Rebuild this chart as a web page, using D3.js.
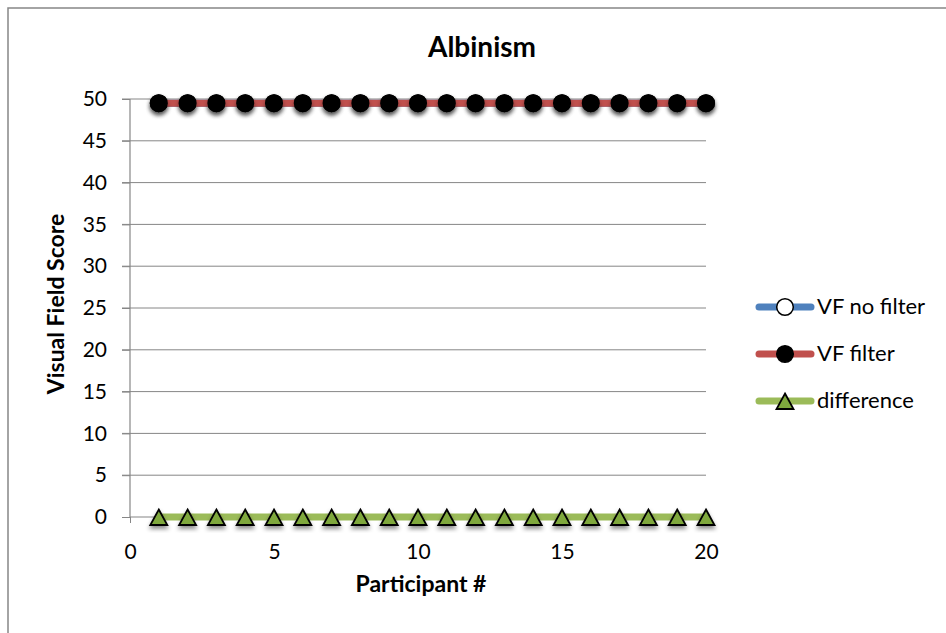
<!DOCTYPE html>
<html>
<head>
<meta charset="utf-8">
<script src="https://cdn.jsdelivr.net/npm/d3@7"></script>
<style>
  html, body { margin: 0; padding: 0; background: #fff; }
  svg { display: block; font-family: Lato, "Open Sans", sans-serif; }
</style>
</head>
<body>
<svg id="chart" width="946" height="633"></svg>
<script>
// Participant numbers and visual field scores
const participants = d3.range(1, 21);
const vfNoFilter = [49.5, 49.5, 49.5, 49.5, 49.5, 49.5, 49.5, 49.5, 49.5, 49.5,
                    49.5, 49.5, 49.5, 49.5, 49.5, 49.5, 49.5, 49.5, 49.5, 49.5];
const vfFilter   = [49.5, 49.5, 49.5, 49.5, 49.5, 49.5, 49.5, 49.5, 49.5, 49.5,
                    49.5, 49.5, 49.5, 49.5, 49.5, 49.5, 49.5, 49.5, 49.5, 49.5];
const difference = [0, 0, 0, 0, 0, 0, 0, 0, 0, 0,
                    0, 0, 0, 0, 0, 0, 0, 0, 0, 0];
const xTicks = [0, 5, 10, 15, 20];
const yTicks = [0, 5, 10, 15, 20, 25, 30, 35, 40, 45, 50];
const seriesNames = ["VF no filter", "VF filter", "difference"];

const svg = d3.select("#chart");

// drop shadow used under the markers
const defs = svg.append("defs");
const f = defs.append("filter").attr("id", "shadow")
  .attr("x", "-50%").attr("y", "-50%").attr("width", "200%").attr("height", "200%");
f.append("feDropShadow").attr("dx", 0).attr("dy", 3).attr("stdDeviation", 2)
  .attr("flood-color", "#000").attr("flood-opacity", 0.45);

// outer chart border
svg.append("rect").attr("x", 8).attr("y", 8).attr("width", 946).attr("height", 640)
  .attr("fill", "#fff").attr("stroke", "#868686").attr("stroke-width", 1.5);

const x = d3.scaleLinear().domain([0, 20]).range([130, 706]);
const y = d3.scaleLinear().domain([0, 50]).range([517, 99]);

// horizontal gridlines
svg.append("g").selectAll("line").data(yTicks.filter(d => d > 0)).join("line")
  .attr("x1", 122).attr("x2", x(20))
  .attr("y1", d => y(d)).attr("y2", d => y(d))
  .attr("stroke", "#868686").attr("stroke-width", 1);

// y axis
const yAxis = svg.append("g").attr("transform", `translate(${x(0)},0)`)
  .call(d3.axisLeft(y).tickValues(yTicks).tickSize(8).tickPadding(15));
yAxis.select(".domain").attr("stroke", "#868686").attr("stroke-width", 1.2)
  .attr("d", `M0,${y(50)}V${y(0)}`);
yAxis.selectAll(".tick line").attr("stroke", "#868686");
yAxis.selectAll(".tick text").attr("font-size", 21).attr("fill", "#000")
  .attr("font-family", "Lato, sans-serif");

// x axis
const xAxis = svg.append("g").attr("transform", `translate(0,${y(0)})`)
  .call(d3.axisBottom(x).tickValues(xTicks).tickSize(6).tickPadding(26));
xAxis.select(".domain").attr("stroke", "#868686").attr("stroke-width", 1.2)
  .attr("d", `M${x(0)},0H${x(20)}`);
xAxis.selectAll(".tick line").attr("stroke", "#868686");
xAxis.selectAll(".tick text").attr("font-size", 21).attr("fill", "#000")
  .attr("font-family", "Lato, sans-serif").attr("dy", null)
  .attr("dominant-baseline", "auto");
xAxis.selectAll(".tick text").attr("y", 42);

// series
const series = [
  { name: seriesNames[0], values: vfNoFilter, color: "#4F81BD", marker: "circle", fill: "#fff" },
  { name: seriesNames[1], values: vfFilter,   color: "#C0504D", marker: "circle", fill: "#000" },
  { name: seriesNames[2], values: difference, color: "#9BBB59", marker: "triangle", fill: "#7FA83E" }
];

const line = d3.line().x((d, i) => x(participants[i])).y(d => y(d));
const triPath = "M0,-8.5L8.5,7L-8.5,7Z";

function drawMarker(g, s, cx, cy) {
  if (s.marker === "circle") {
    g.append("circle").attr("cx", cx).attr("cy", cy).attr("r", 8.3)
      .attr("fill", s.fill).attr("stroke", "#000").attr("stroke-width", 1.5);
  } else {
    g.append("path").attr("d", triPath).attr("transform", `translate(${cx},${cy})`)
      .attr("fill", s.fill).attr("stroke", "#000").attr("stroke-width", 1.8)
      .attr("stroke-linejoin", "miter");
  }
}

series.forEach(s => {
  svg.append("path").datum(s.values).attr("d", line)
    .attr("fill", "none").attr("stroke", s.color).attr("stroke-width", 7)
    .attr("stroke-linecap", "round");
  const mg = svg.append("g").attr("filter", "url(#shadow)");
  s.values.forEach((v, i) => drawMarker(mg, s, x(participants[i]), y(v) + (s.marker === "triangle" ? 1 : 0)));
});

// title
svg.append("text").attr("x", 482).attr("y", 57).attr("text-anchor", "middle")
  .attr("font-size", 28).attr("font-weight", "bold").text("Albinism");

// axis titles
svg.append("text").attr("transform", "translate(64,304) rotate(-90)")
  .attr("text-anchor", "middle").attr("font-size", 23).attr("font-weight", "bold")
  .text("Visual Field Score");
svg.append("text").attr("x", 421).attr("y", 592).attr("text-anchor", "middle")
  .attr("font-size", 23).attr("font-weight", "bold").text("Participant #");

// legend
const legendY = [307, 354, 401];
const lg = svg.append("g");
series.forEach((s, i) => {
  const ly = legendY[i];
  lg.append("line").attr("x1", 759).attr("x2", 811).attr("y1", ly).attr("y2", ly)
    .attr("stroke", s.color).attr("stroke-width", 7).attr("stroke-linecap", "round");
  drawMarker(lg, s, 785, ly + (s.marker === "triangle" ? 1 : 0));
  lg.append("text").attr("x", 817).attr("y", ly + 7).attr("font-size", 22)
    .text(s.name);
});
</script>
</body>
</html>
